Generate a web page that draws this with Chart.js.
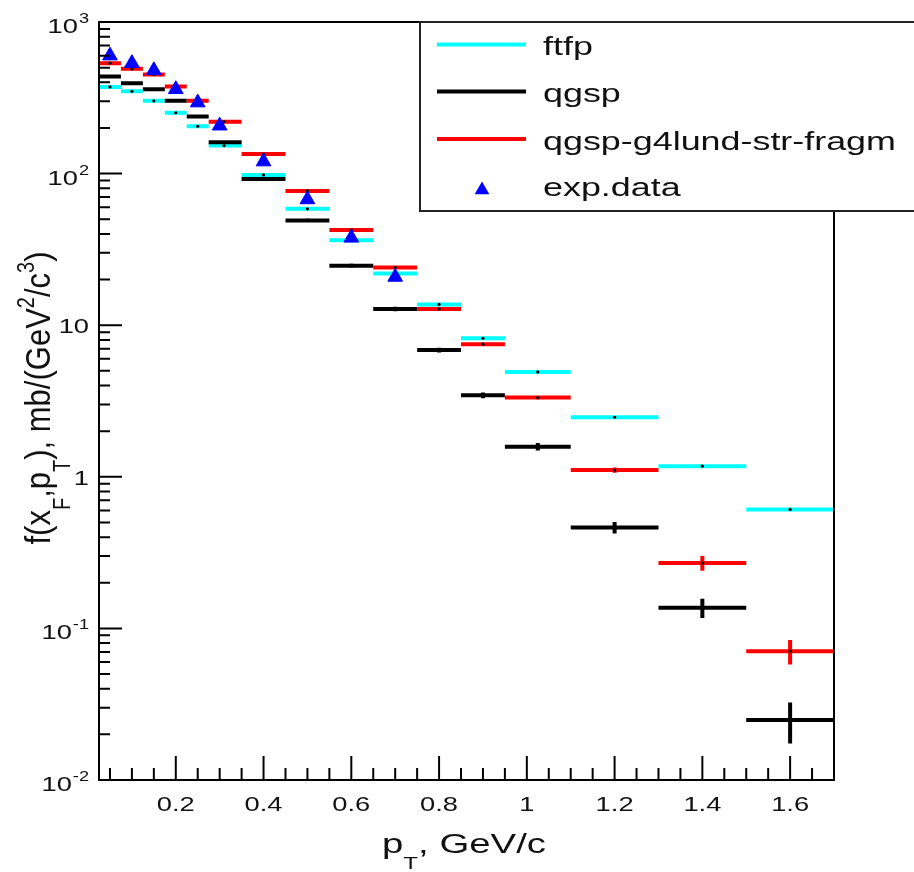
<!DOCTYPE html>
<html><head><meta charset="utf-8">
<script src="https://cdn.jsdelivr.net/npm/chart.js@4"></script>
<style>html,body{margin:0;padding:0;background:#fff;overflow:hidden}canvas{display:block}</style>
</head><body>
<canvas id="c" width="914" height="872"></canvas>
<script>
// ---- data ----
const binLow  = [0.025,0.075,0.125,0.175,0.225,0.275,0.35,0.45,0.55,0.65,0.75,0.85,0.95,1.1,1.3,1.5];
const binHigh = [0.075,0.125,0.175,0.225,0.275,0.35,0.45,0.55,0.65,0.75,0.85,0.95,1.1,1.3,1.5,1.7];
const binMean = [0.05,0.1,0.15,0.2,0.25,0.31,0.4,0.5,0.6,0.7,0.8,0.9,1.025,1.2,1.4,1.6];
const ftfp    = [373,349,302,252,205,153,98,58.6,36.4,21.9,13.7,8.2,4.92,2.47,1.175,0.609];
const ftfpErr = [4,4,3,3,2.5,2,1.2,0.7,0.45,0.3,0.2,0.12,0.08,0.04,0.02,0.015];
const qgsp    = [437,395,360,302,238,161,92,49.1,24.7,12.8,6.85,3.45,1.58,0.463,0.137,0.0249];
const qgspErr = [5,5,4,4,3,2.5,1.8,1.2,0.7,0.45,0.25,0.15,0.09,0.04,0.02,0.0075];
const lund    = [535,491,450,375,302,220,134.6,76.9,42.4,24.0,12.8,7.5,3.33,1.107,0.270,0.0708];
const lundErr = [5,5,4,4,3,2.5,1.8,1.0,0.6,0.4,0.25,0.15,0.08,0.045,0.03,0.013];
const expX    = [0.05,0.1,0.15,0.2,0.25,0.3,0.4,0.5,0.6,0.7];
const expY    = [600,535,480,360,294,207,120,67.5,37.7,20.8];
const seriesNames = ['ftfp','qgsp','qgsp-g4lund-str-fragm','exp.data'];
const xTickValues = [0.2,0.4,0.6,0.8,1.0,1.2,1.4,1.6];
const xTickLabels = ['0.2','0.4','0.6','0.8','1','1.2','1.4','1.6'];
const yTickValues = [0.01,0.1,1,10,100,1000];
const yTickBase   = ['10','10','1','10','10','10'];
const yTickExp    = ['-2','-1','','','2','3'];

const COLORS = ['#00ffff','#000000','#ff0000','#0000ff'];

function segData(vals){
  const d=[];
  vals.forEach((v,i)=>{ d.push({x:binLow[i],y:v},{x:binHigh[i],y:v},{x:binHigh[i],y:null}); });
  return d;
}
function errData(vals,errs){
  const d=[];
  vals.forEach((v,i)=>{ d.push({x:binMean[i],y:v-errs[i]},{x:binMean[i],y:v+errs[i]},{x:binMean[i],y:null}); });
  return d;
}
function dotData(vals){ return vals.map((v,i)=>({x:binMean[i],y:v})); }

const lineOpts = (c,order)=>({type:'line',borderColor:c,backgroundColor:c,borderWidth:4,pointRadius:0,
  spanGaps:false,tension:0,borderCapStyle:'butt',order:order,fill:false});

const datasets = [
  Object.assign({label:seriesNames[0],data:segData(ftfp)},lineOpts(COLORS[0],6)),
  Object.assign({label:seriesNames[1],data:segData(qgsp)},lineOpts(COLORS[1],5)),
  Object.assign({label:seriesNames[2],data:segData(lund)},lineOpts(COLORS[2],4)),
  Object.assign({label:'e0',data:errData(ftfp,ftfpErr)},lineOpts(COLORS[0],3)),
  Object.assign({label:'e1',data:errData(qgsp,qgspErr)},lineOpts(COLORS[1],3)),
  Object.assign({label:'e2',data:errData(lund,lundErr)},lineOpts(COLORS[2],3)),
  {type:'scatter',label:'d',data:[].concat(dotData(ftfp),dotData(lund)),pointRadius:1.6,
   backgroundColor:'#000',borderWidth:0,order:2},
  {type:'scatter',label:seriesNames[3],data:expX.map((x,i)=>({x:x,y:expY[i]})),
   pointStyle:'triangle',pointRadius:8.5,backgroundColor:COLORS[3],borderColor:COLORS[3],borderWidth:1,order:0}
];

function stretched(ctx,s,x,y,font,sx,align){
  ctx.save(); ctx.font=font; ctx.translate(x,y); ctx.scale(sx,1);
  ctx.textAlign=align||'left'; ctx.textBaseline='alphabetic'; ctx.fillText(s,0,0); ctx.restore();
}
function rich(ctx,parts,sx,sy,family){
  let total=0;
  parts.forEach(p=>{ctx.font=p.size+'px '+family; p.w=ctx.measureText(p.t).width*sx; total+=p.w;});
  let cx=-total/2;
  parts.forEach(p=>{
    ctx.save(); ctx.font=p.size+'px '+family; ctx.translate(cx,(p.dy||0)*sy); ctx.scale(sx,sy);
    ctx.textAlign='left'; ctx.textBaseline='alphabetic'; ctx.fillText(p.t,0,0); ctx.restore();
    cx+=p.w;
  });
}

const FAM = '"Liberation Sans", Arial, Helvetica, sans-serif';
const decor = {
  id:'decor',
  afterDraw(chart){
    const ctx=chart.ctx, a=chart.chartArea, xs=chart.scales.x, ys=chart.scales.y;
    ctx.save();
    ctx.strokeStyle='#000'; ctx.lineWidth=2; ctx.fillStyle='#111';
    ctx.strokeRect(a.left,a.top,a.right-a.left,a.bottom-a.top);
    ctx.beginPath();
    for(let k=1;k<=33;k++){
      const v=k*0.05; if(v<=xs.min||v>=xs.max) continue;
      const px=xs.getPixelForValue(v);
      const major = (k%4===0);
      ctx.moveTo(px,a.bottom); ctx.lineTo(px,a.bottom-(major?24:12));
    }
    for(let d=-2; d<=2; d++){
      for(let m=1;m<=9;m++){
        const v=m*Math.pow(10,d);
        const py=ys.getPixelForValue(v);
        ctx.moveTo(a.left,py); ctx.lineTo(a.left+(m===1?23:11),py);
      }
    }
    ctx.stroke();
    xTickValues.forEach((v,i)=>{
      stretched(ctx,xTickLabels[i],xs.getPixelForValue(v),811,'21px '+FAM,1.3,'center');
    });
    yTickValues.forEach((v,i)=>{
      const py=ys.getPixelForValue(v);
      const right=89;
      if(yTickExp[i]){
        ctx.font='14px '+FAM;
        const we=ctx.measureText(yTickExp[i]).width*1.3;
        stretched(ctx,yTickExp[i],right-we,py+1,'14px '+FAM,1.3,'left');
        stretched(ctx,yTickBase[i],right-we-1,py+11,'21px '+FAM,1.3,'right');
      } else {
        stretched(ctx,yTickBase[i],right,py+8,'21px '+FAM,1.3,'right');
      }
    });
    ctx.save(); ctx.translate(464,853);
    rich(ctx,[{t:'p',size:27},{t:'T',size:17,dy:16},{t:', GeV/c',size:27}],1.42,1,FAM);
    ctx.restore();
    ctx.save(); ctx.translate(50,398); ctx.rotate(-Math.PI/2);
    rich(ctx,[{t:'f(x',size:31},{t:'F',size:20,dy:17},{t:',p',size:31},{t:'T',size:20,dy:17},
      {t:'), mb/(GeV',size:31},{t:'2',size:20,dy:-14},{t:'/c',size:31},{t:'3',size:20,dy:-14},{t:')',size:31}],1.0,1.15,FAM);
    ctx.restore();
    const L={x:420,y:22,w:600,h:189};
    ctx.fillStyle='#fff'; ctx.fillRect(L.x,L.y,L.w,L.h);
    ctx.strokeStyle='#222'; ctx.lineWidth=2; ctx.strokeRect(L.x,L.y,L.w,L.h);
    const rowsY=[44.5,91.5,139,188];
    for(let i=0;i<3;i++){
      ctx.strokeStyle=COLORS[i]; ctx.lineWidth=4; ctx.beginPath();
      ctx.moveTo(437,rowsY[i]); ctx.lineTo(526,rowsY[i]); ctx.stroke();
    }
    const r=8.5, tx=482, ty=rowsY[3]+2;
    ctx.fillStyle=COLORS[3]; ctx.beginPath();
    ctx.moveTo(tx,ty-r); ctx.lineTo(tx+r*0.866,ty+r/2); ctx.lineTo(tx-r*0.866,ty+r/2); ctx.closePath(); ctx.fill();
    ctx.fillStyle='#111';
    const base=[55,102,149.5,196];
    seriesNames.forEach((n,i)=>stretched(ctx,n,543,base[i],'26px '+FAM,1.38,'left'));
    ctx.restore();
  }
};

new Chart(document.getElementById('c'),{
  data:{datasets:datasets},
  options:{
    responsive:false, animation:false, devicePixelRatio:1,
    layout:{padding:{left:99,top:22,right:80,bottom:92}},
    plugins:{legend:{display:false},tooltip:{enabled:false}},
    scales:{
      x:{type:'linear',min:0.025,max:1.7,display:false},
      y:{type:'logarithmic',min:0.01,max:1000,display:false}
    }
  },
  plugins:[decor]
});
</script>
</body></html>
